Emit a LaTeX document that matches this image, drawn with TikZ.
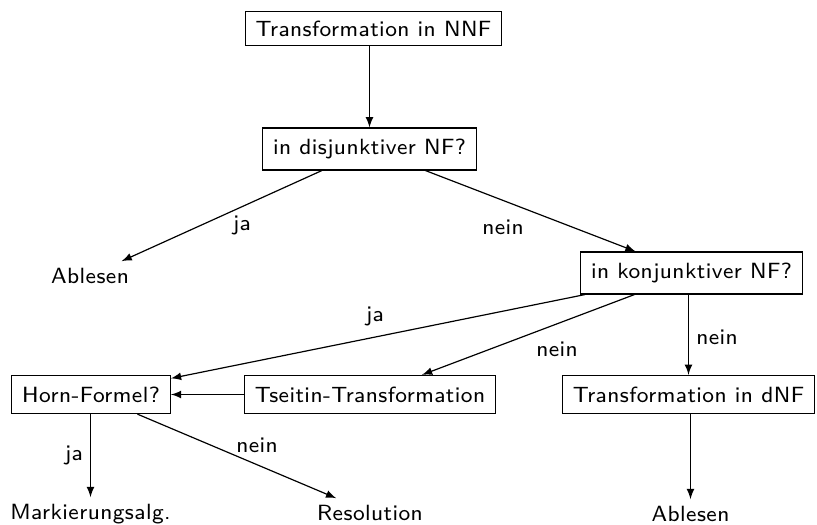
\documentclass[tikz,border=0pt]{standalone}
\usepackage{fontspec}
\setsansfont{lmsans8-regular.otf}[LetterSpace=2]
\usepackage{tikz}
\usetikzlibrary{arrows}

\begin{document}
\begin{tikzpicture}[x=0.42pt,y=-0.42pt,line width=0.5pt,
  box/.style={draw, font=\fontsize{9.25}{11}\sffamily, inner xsep=4.4pt, inner ysep=0pt, minimum height=16pt},
  leaf/.style={font=\fontsize{9.25}{11}\sffamily, inner sep=2.5pt, anchor=base},
  lbl/.style={font=\fontsize{9.25}{11}\sffamily},
  >=latex]
\useasboundingbox (0,0) rectangle (817,524);

% Boxes
\node[box, minimum height=14.2pt] (nnf) at (373.5,28.5) {Transformation in NNF};
\node[box, minimum height=17.6pt] (dnf) at (369.5,149) {in disjunktiver NF?};
\node[leaf] (ablesenA) at (90,283) {Ablesen};
\node[box, minimum height=17.6pt] (knf) at (691.5,273) {in konjunktiver NF?};
\node[box] (horn) at (91,394.5) {Horn-Formel?};
\node[box] (tseitin) at (370,394.5) {Tseitin-Transformation};
\node[box] (trdnf) at (688.5,394.5) {Transformation in dNF};
\node[leaf] (mark) at (90.5,519) {Markierungsalg.};
\node[leaf] (res) at (370,520) {Resolution};
\node[leaf] (ablesenB) at (690.5,521) {Ablesen};

% Connectors
\draw[->] (nnf.south -| dnf.north) -- (dnf.north);
\draw[->] (dnf) -- (ablesenA);
\draw[->] (dnf) -- (knf);
\draw[->] (knf) -- (horn);
\draw[->] (knf) -- (tseitin);
\draw[->] (knf.south -| trdnf.north) -- (trdnf.north);
\draw[->] (tseitin) -- (horn);
\draw[->] (horn.south -| mark.north) -- (mark.north);
\draw[->] (horn) -- (res);
\draw[->] (trdnf.south -| ablesenB.north) -- (ablesenB.north);

% Labels
\node[lbl] (l1) at (242,225) {ja};
\node[lbl] (l2) at (503,227) {nein};
\node[lbl] (l3) at (375,316) {ja};
\node[lbl] (l4) at (557,349) {nein};
\node[lbl] (l5) at (717,337) {nein};
\node[lbl] (l6) at (74,455) {ja};
\node[lbl] (l7) at (257,445) {nein};

\end{tikzpicture}
\end{document}
